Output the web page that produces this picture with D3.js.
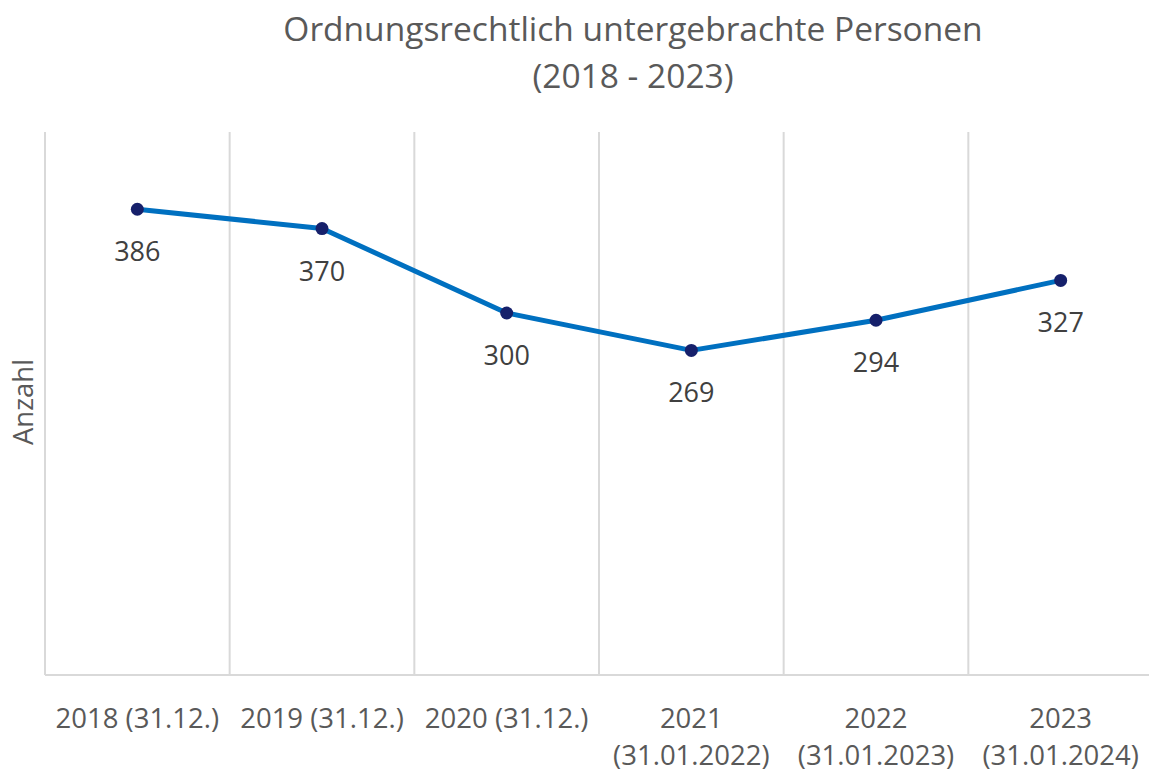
<!DOCTYPE html>
<html><head><meta charset="utf-8">
<script src="https://cdn.jsdelivr.net/npm/d3@7"></script>
<style>body{margin:0;background:#fff}svg{display:block}</style>
</head><body>
<svg id="c" width="1149" height="773"></svg>
<script>
const categories = [["2018 (31.12.)"],["2019 (31.12.)"],["2020 (31.12.)"],["2021","(31.01.2022)"],["2022","(31.01.2023)"],["2023","(31.01.2024)"]];
const values = [386, 370, 300, 269, 294, 327];
const titleLines = ["Ordnungsrechtlich untergebrachte Personen", "(2018 - 2023)"];
const yLabel = "Anzahl";

const font = "'Open Sans', sans-serif";
const svg = d3.select("#c");
const x = d3.scaleBand().domain(d3.range(categories.length)).range([45, 1153]);
const y = d3.scaleLinear().domain([0, 450]).range([675, 132]);

// gridlines at band boundaries
const bounds = d3.range(categories.length).map(i => x(i)).concat([x.range()[1]]);
svg.append("g").selectAll("line").data(bounds).join("line")
  .attr("x1", d => d).attr("x2", d => d).attr("y1", y(450)).attr("y2", y(0))
  .attr("stroke", "#d9d9d9").attr("stroke-width", 2);
svg.append("line").attr("x1", 45).attr("x2", 1153).attr("y1", y(0)).attr("y2", y(0))
  .attr("stroke", "#d9d9d9").attr("stroke-width", 2);

// title
svg.append("g").selectAll("text").data(titleLines).join("text")
  .attr("x", 633).attr("y", (d, i) => 41 + i * 47)
  .attr("text-anchor", "middle").attr("font-family", font).attr("font-size", 33.5)
  .attr("fill", "#595959").text(d => d);

// y label
svg.append("text").attr("transform", "translate(33,402) rotate(-90)")
  .attr("text-anchor", "middle").attr("font-family", font).attr("font-size", 27.5)
  .attr("fill", "#595959").text(yLabel);

// x labels
const xl = svg.append("g").selectAll("text").data(categories).join("text")
  .attr("x", (d, i) => x(i) + x.bandwidth() / 2).attr("y", 728)
  .attr("text-anchor", "middle").attr("font-family", font).attr("font-size", 27.5)
  .attr("fill", "#595959");
xl.selectAll("tspan").data(d => d).join("tspan")
  .attr("x", function(){ return this.parentNode.getAttribute("x"); })
  .attr("dy", (d, i) => i === 0 ? 0 : 37).text(d => d);

// line
const cx = i => x(i) + x.bandwidth() / 2;
svg.append("path").datum(values)
  .attr("d", d3.line().x((d, i) => cx(i)).y(d => y(d)))
  .attr("fill", "none").attr("stroke", "#0070c0").attr("stroke-width", 5)
  .attr("stroke-linejoin", "round");
svg.append("g").selectAll("circle").data(values).join("circle")
  .attr("cx", (d, i) => cx(i)).attr("cy", d => y(d)).attr("r", 6.5)
  .attr("fill", "#16206b");

// data labels
svg.append("g").selectAll("text").data(values).join("text")
  .attr("x", (d, i) => cx(i)).attr("y", d => y(d) + 52)
  .attr("text-anchor", "middle").attr("font-family", font).attr("font-size", 27)
  .attr("fill", "#404040").text(d => d);
</script>
</body></html>
